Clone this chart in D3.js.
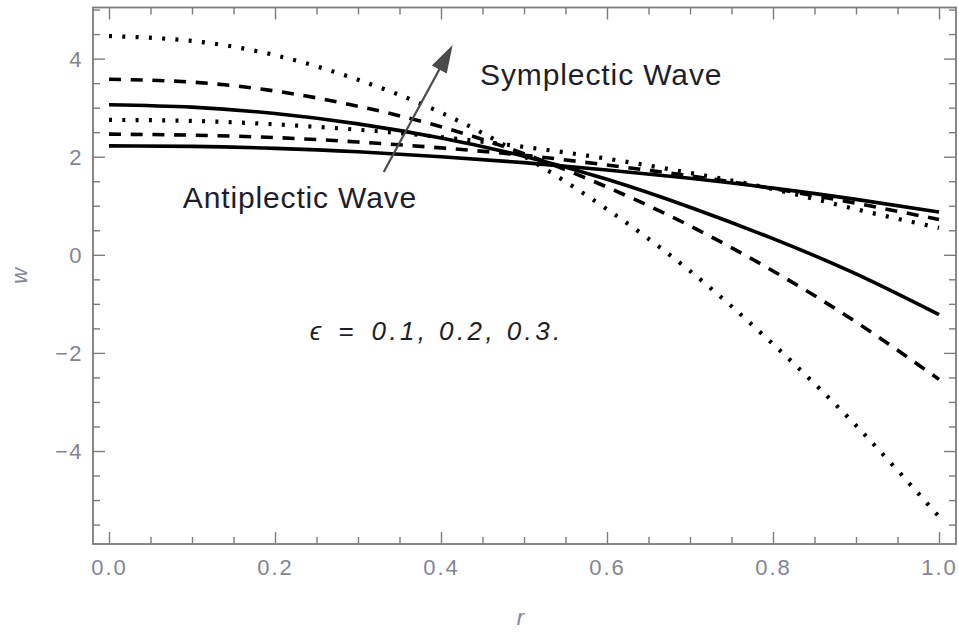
<!DOCTYPE html>
<html>
<head>
<meta charset="utf-8">
<script src="https://cdn.jsdelivr.net/npm/d3@7/dist/d3.min.js"></script>
<style>
  html, body { margin: 0; padding: 0; background: #fff; }
  svg { display: block; }
  text { font-family: "Liberation Sans", Arial, sans-serif; }
</style>
</head>
<body>
<script>
// radial positions where each profile is sampled
const rValues = [0, 0.1, 0.2, 0.3, 0.4, 0.5, 0.6, 0.7, 0.8, 0.9, 1.0];

// steeper family (symplectic wave), eps = 0.1, 0.2, 0.3
const symSolid  = [3.06, 3.01, 2.88, 2.67, 2.38, 2.01, 1.54, 0.97, 0.33, -0.39, -1.22];
const symDashed = [3.58, 3.52, 3.34, 3.03, 2.61, 2.06, 1.38, 0.59, -0.33, -1.37, -2.54];
const symDotted = [4.46, 4.36, 4.07, 3.57, 2.90, 2.01, 0.93, -0.33, -1.82, -3.48, -5.34];

// flatter family (antiplectic wave), eps = 0.1, 0.2, 0.3
const antiSolid  = [2.22, 2.21, 2.17, 2.10, 2.00, 1.88, 1.73, 1.56, 1.36, 1.13, 0.87];
const antiDashed = [2.46, 2.44, 2.39, 2.30, 2.18, 2.03, 1.83, 1.61, 1.35, 1.05, 0.72];
const antiDotted = [2.75, 2.73, 2.66, 2.55, 2.40, 2.20, 1.96, 1.67, 1.34, 0.93, 0.55];

const xMajorTicks = [0, 0.2, 0.4, 0.6, 0.8, 1.0];
const xTickLabels = ["0.0", "0.2", "0.4", "0.6", "0.8", "1.0"];
const yMajorTicks = [-4, -2, 0, 2, 4];
const yTickLabels = ["\u22124", "\u22122", "0", "2", "4"];

const W = 959, H = 634;
const frame = { left: 93, right: 956, top: 7.5, bottom: 544 };

const svg = d3.select("body").append("svg").attr("width", W).attr("height", H);

const x = d3.scaleLinear().domain([-0.01928, 1.02048]).range([frame.left, frame.right]);
const y = d3.scaleLinear().domain([-5.896, 5.042]).range([frame.bottom, frame.top]);

const axisColor = "#7c7c7c";
const labelColor = "#7f8694";

// minor tick positions
const xMinor = d3.range(0, 1.0001, 0.05).map(v => +v.toFixed(2)).filter(v => !xMajorTicks.includes(v));
const yMinor = d3.range(-5.5, 5.01, 0.5).map(v => +v.toFixed(1)).filter(v => !yMajorTicks.includes(v));

function styleAxis(g) {
  g.select(".domain").remove();
  g.selectAll(".tick line").attr("stroke", axisColor).attr("stroke-width", 1.4);
}

// bottom ticks (inward) with labels
svg.append("g").attr("transform", `translate(0,${frame.bottom})`)
  .call(d3.axisBottom(x).tickValues(xMinor).tickSize(-7).tickFormat(""))
  .call(styleAxis);
const bottomMajor = svg.append("g").attr("transform", `translate(0,${frame.bottom})`)
  .call(d3.axisBottom(x).tickValues(xMajorTicks).tickSize(-12).tickPadding(0)
        .tickFormat((d, i) => xTickLabels[i]))
  .call(styleAxis);
bottomMajor.selectAll(".tick text")
  .attr("y", 31).attr("dy", 0)
  .attr("fill", labelColor).attr("font-size", 22).attr("letter-spacing", 2);

// top ticks (inward)
svg.append("g").attr("transform", `translate(0,${frame.top})`)
  .call(d3.axisTop(x).tickValues(xMinor).tickSize(-7).tickFormat(""))
  .call(styleAxis);
svg.append("g").attr("transform", `translate(0,${frame.top})`)
  .call(d3.axisTop(x).tickValues(xMajorTicks).tickSize(-12).tickFormat(""))
  .call(styleAxis);

// left ticks (inward) with labels
svg.append("g").attr("transform", `translate(${frame.left},0)`)
  .call(d3.axisLeft(y).tickValues(yMinor).tickSize(-7).tickFormat(""))
  .call(styleAxis);
const leftMajor = svg.append("g").attr("transform", `translate(${frame.left},0)`)
  .call(d3.axisLeft(y).tickValues(yMajorTicks).tickSize(-12)
        .tickFormat((d, i) => yTickLabels[i]))
  .call(styleAxis);
leftMajor.selectAll(".tick text")
  .attr("x", -10).attr("dy", "0.36em")
  .attr("fill", labelColor).attr("font-size", 22).attr("letter-spacing", 1.5);

// right ticks (inward)
svg.append("g").attr("transform", `translate(${frame.right},0)`)
  .call(d3.axisRight(y).tickValues(yMinor).tickSize(-7).tickFormat(""))
  .call(styleAxis);
svg.append("g").attr("transform", `translate(${frame.right},0)`)
  .call(d3.axisRight(y).tickValues(yMajorTicks).tickSize(-12).tickFormat(""))
  .call(styleAxis);

// frame
svg.append("rect")
  .attr("x", frame.left).attr("y", frame.top)
  .attr("width", frame.right - frame.left).attr("height", frame.bottom - frame.top)
  .attr("fill", "none").attr("stroke", axisColor).attr("stroke-width", 1.8);

// axis labels
svg.append("text")
  .attr("transform", `translate(27,${(frame.top + frame.bottom) / 2}) rotate(-90)`)
  .attr("text-anchor", "middle").attr("font-style", "italic")
  .attr("font-size", 22).attr("fill", labelColor).text("w");
svg.append("text")
  .attr("x", (frame.left + frame.right) / 2 - 4).attr("y", 625)
  .attr("text-anchor", "middle").attr("font-style", "italic")
  .attr("font-size", 22).attr("fill", labelColor).text("r");

// curves
const series = [
  { values: antiSolid,  dash: null },
  { values: antiDashed, dash: "12 9.7" },
  { values: antiDotted, dash: "3 10.3" },
  { values: symSolid,   dash: null },
  { values: symDashed,  dash: "12 9.7" },
  { values: symDotted,  dash: "3 10.3" }
];
const line = d3.line()
  .x((d, i) => x(rValues[i]))
  .y(d => y(d))
  .curve(d3.curveNatural);

svg.append("g").selectAll("path").data(series).join("path")
  .attr("d", s => line(s.values))
  .attr("fill", "none")
  .attr("stroke", "#000")
  .attr("stroke-width", s => s.dash && s.dash.startsWith("3") ? 4.2 : 3.6)
  .attr("stroke-dasharray", s => s.dash);

// arrow pointing from the flat family towards the steep family
const arrowFrom = { r: 0.331, w: 1.69 };
const arrowTo = { r: 0.414, w: 4.28 };
const ax0 = x(arrowFrom.r), ay0 = y(arrowFrom.w), ax1 = x(arrowTo.r), ay1 = y(arrowTo.w);
const len = Math.hypot(ax1 - ax0, ay1 - ay0);
const ux = (ax1 - ax0) / len, uy = (ay1 - ay0) / len;
const headLen = 28, headHalf = 8.5;
const bx = ax1 - ux * headLen, by = ay1 - uy * headLen;
svg.append("line")
  .attr("x1", ax0).attr("y1", ay0).attr("x2", bx + ux * 2).attr("y2", by + uy * 2)
  .attr("stroke", "#4a4a4a").attr("stroke-width", 2.2);
svg.append("path")
  .attr("d", `M${ax1},${ay1} L${bx - uy * headHalf},${by + ux * headHalf} L${bx + uy * headHalf},${by - ux * headHalf} Z`)
  .attr("fill", "#4a4a4a");

// annotations
svg.append("text")
  .attr("x", x(0.447)).attr("y", y(3.46))
  .attr("font-size", 30).attr("letter-spacing", 0.9).attr("fill", "#1e1e2a")
  .text("Symplectic Wave");
svg.append("text")
  .attr("x", x(0.089)).attr("y", y(0.95))
  .attr("font-size", 30).attr("letter-spacing", 0.85).attr("fill", "#1e1e2a")
  .text("Antiplectic Wave");

const epsLabel = svg.append("text")
  .attr("x", x(0.242)).attr("y", y(-1.74))
  .attr("font-size", 26).attr("font-style", "italic")
  .attr("fill", "#1e1e2a");
epsLabel.append("tspan").text("\u03F5");
epsLabel.append("tspan").attr("dx", 17).text("=");
epsLabel.append("tspan").attr("dx", 18).attr("letter-spacing", 3.4).text("0.1, 0.2, 0.3.");
</script>
</body>
</html>
